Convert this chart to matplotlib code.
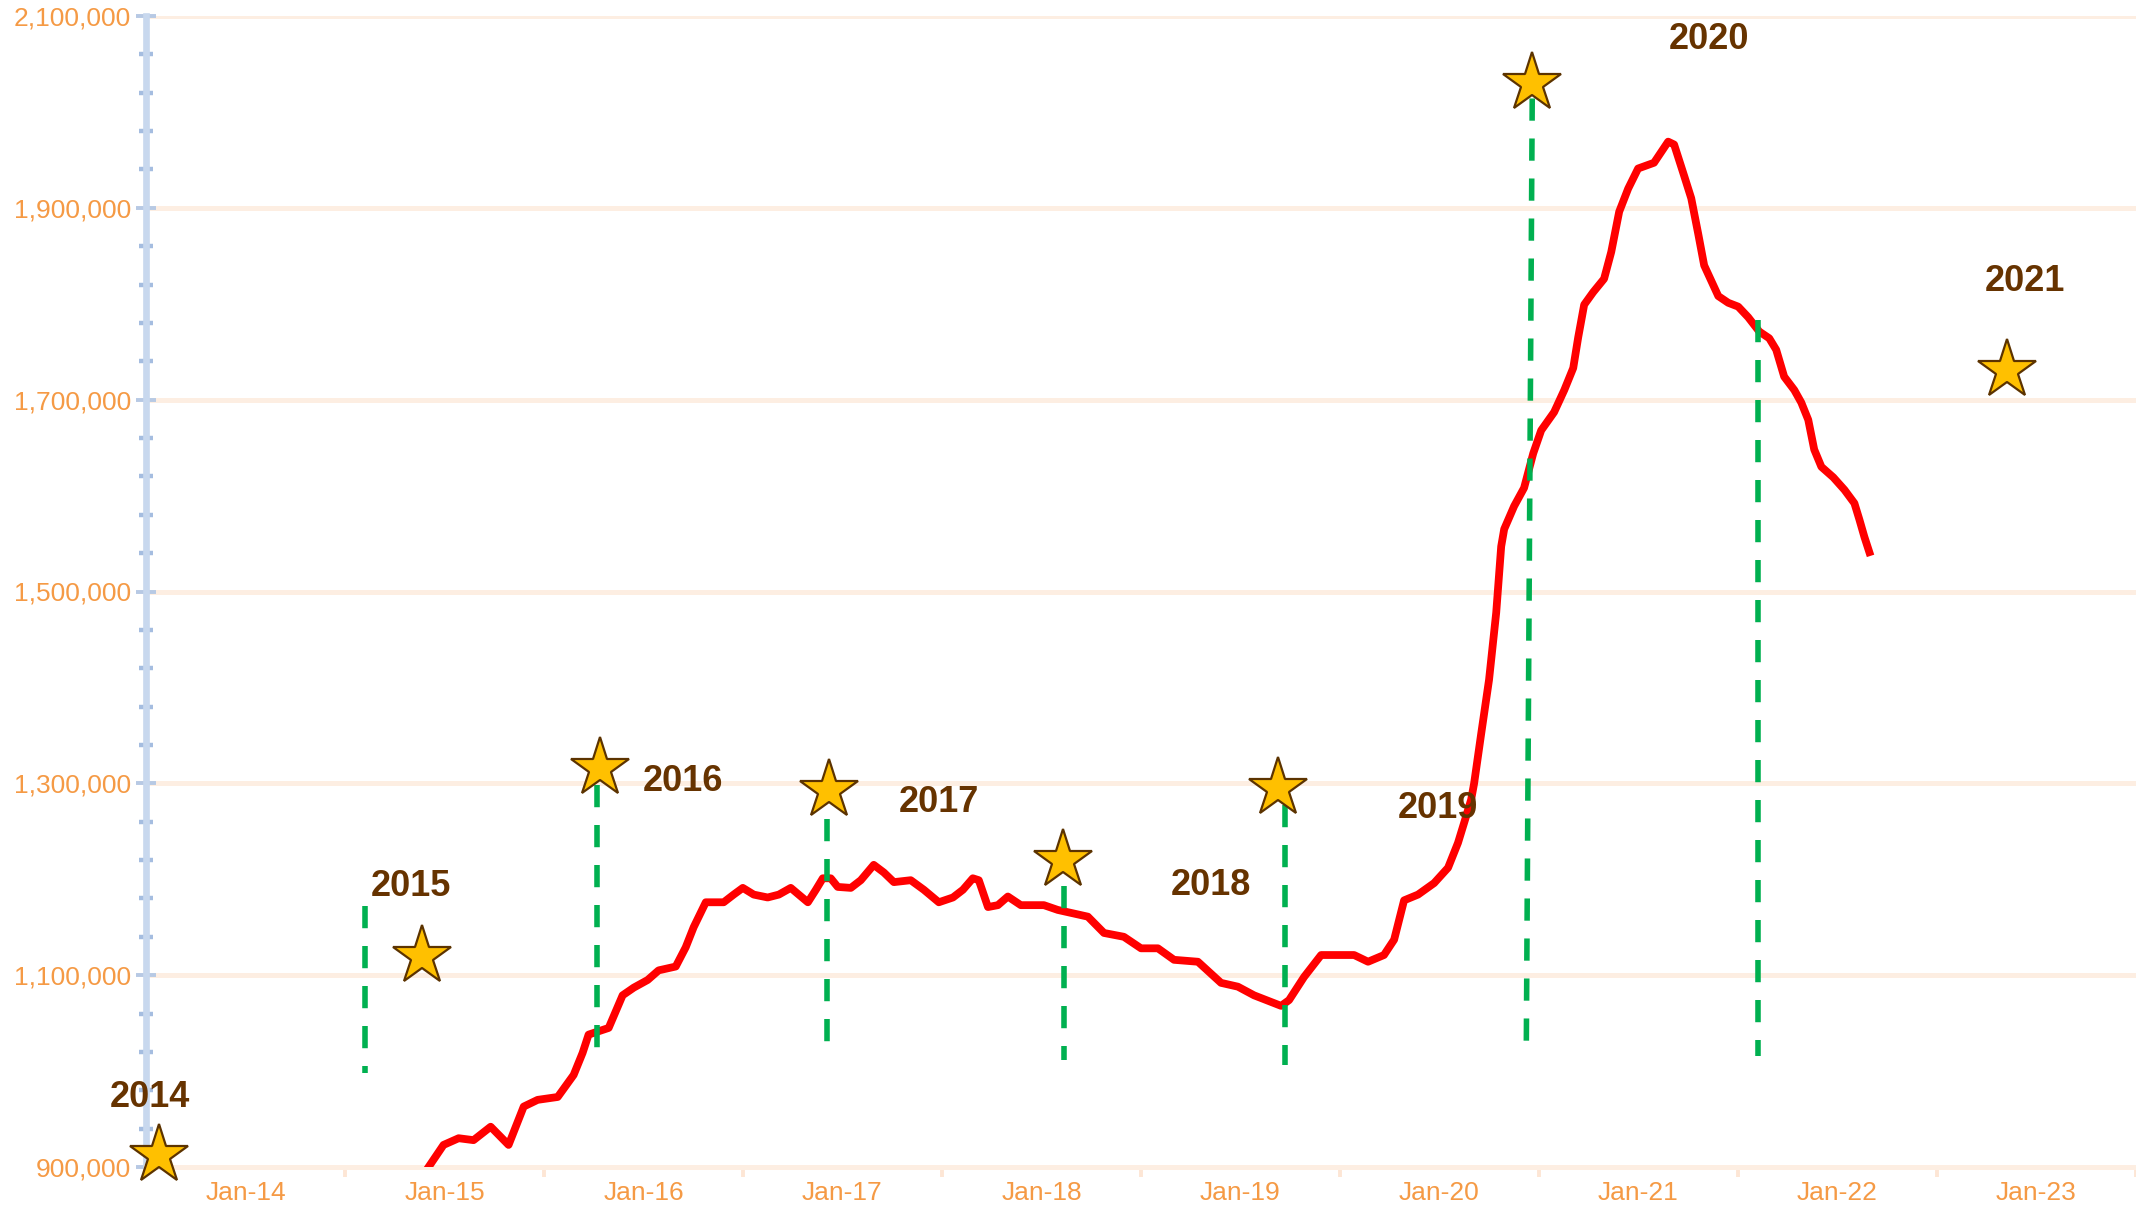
import numpy as np
import matplotlib
matplotlib.use("Agg")
import matplotlib.pyplot as plt
from matplotlib.ticker import FuncFormatter, FixedLocator

# monthly series (decimal year, value in thousands)
years = [2014.920, 2014.995, 2015.071, 2015.146, 2015.232, 2015.322, 2015.398, 2015.468, 2015.569, 2015.649,
         2015.694, 2015.724, 2015.825, 2015.895, 2015.951, 2016.021, 2016.076, 2016.162, 2016.212, 2016.252,
         2016.313, 2016.403, 2016.453, 2016.499, 2016.554, 2016.624, 2016.680, 2016.740, 2016.780, 2016.826,
         2016.866, 2016.901, 2016.941, 2016.976, 2017.042, 2017.092, 2017.157, 2017.208, 2017.258, 2017.343,
         2017.409, 2017.484, 2017.555, 2017.605, 2017.655, 2017.685, 2017.731, 2017.781, 2017.831, 2017.896,
         2018.012, 2018.082, 2018.233, 2018.314, 2018.414, 2018.500, 2018.585, 2018.666, 2018.786, 2018.902,
         2018.987, 2019.068, 2019.204, 2019.244, 2019.319, 2019.405, 2019.571, 2019.641, 2019.721, 2019.772,
         2019.822, 2019.892, 2019.973, 2020.043, 2020.093, 2020.124, 2020.159, 2020.174, 2020.209, 2020.249,
         2020.285, 2020.310, 2020.325, 2020.375, 2020.425, 2020.471, 2020.511, 2020.576, 2020.627, 2020.672,
         2020.697, 2020.727, 2020.772, 2020.827, 2020.863, 2020.903, 2020.948, 2020.998, 2021.078, 2021.149,
         2021.179, 2021.230, 2021.265, 2021.300, 2021.330, 2021.401, 2021.451, 2021.501, 2021.551, 2021.607,
         2021.657, 2021.692, 2021.732, 2021.783, 2021.818, 2021.853, 2021.883, 2021.919, 2021.979, 2022.035,
         2022.085, 2022.110, 2022.135, 2022.160]
values = [900, 923, 930, 928, 942, 923, 963, 970, 973, 996,
          1019, 1038, 1045, 1079, 1087, 1095, 1105, 1109, 1129, 1150,
          1176, 1176, 1184, 1191, 1184, 1181, 1184, 1191, 1184, 1176,
          1189, 1201, 1201, 1192, 1191, 1199, 1215, 1207, 1197, 1199,
          1189, 1176, 1181, 1189, 1201, 1199, 1171, 1173, 1182, 1173,
          1173, 1168, 1161, 1144, 1140, 1128, 1128, 1116, 1114, 1092,
          1088, 1079, 1068, 1074, 1098, 1121, 1121, 1114, 1121, 1137,
          1178, 1184, 1196, 1212, 1238, 1259, 1283, 1300, 1351, 1408,
          1478, 1547, 1565, 1589, 1608, 1644, 1668, 1687, 1710, 1733,
          1765, 1799, 1812, 1826, 1854, 1896, 1920, 1941, 1947, 1969,
          1966, 1933, 1910, 1873, 1840, 1808, 1801, 1797, 1786, 1771,
          1764, 1752, 1724, 1710, 1697, 1679, 1648, 1630, 1619, 1606,
          1592, 1575, 1557, 1541]

# annotations
star_x = [2013.563, 2014.885, 2015.780, 2016.931, 2018.108, 2019.189, 2020.466, 2022.854]
star_y = [912.5, 1120, 1316, 1293, 1220, 1295, 2030, 1731]
label_text = ["2014", "2015", "2016", "2017", "2018", "2019", "2020", "2021"]
label_x = [2013.522, 2014.830, 2016.197, 2017.484, 2018.852, 2019.993, 2021.356, 2022.944]
label_y = [972, 1192, 1302, 1280, 1193, 1274, 2075, 1823]
dash_x_top = [2014.603, 2015.765, 2016.921, 2018.113, 2019.224, 2020.466, 2021.602]
dash_x_bot = [2014.603, 2015.765, 2016.921, 2018.113, 2019.224, 2020.436, 2021.602]
dash_top = [1172, 1298, 1263, 1193, 1277, 2014, 1783]
dash_bot = [998, 1012, 1020, 1012, 1006, 1019, 1016]

tick_years = list(range(2014, 2024))
tick_labels = ["Jan-%02d" % (y % 100) for y in tick_years]
y_major = [900000, 1100000, 1300000, 1500000, 1700000, 1900000, 2100000]
y_minor = [900000 + 40000 * i for i in range(31)]

orange = "#F59A45"
grid_col = "#FDEEE2"
brown = "#663300"

fig = plt.figure(figsize=(10.68, 6.09), dpi=200)
ax = fig.add_axes([146 / 2136, 51 / 1218, 1 - 146 / 2136, 1151 / 1218])

k = 1000
ax.plot(years, np.array(values) * k, color="#FF0000", lw=2.8, zorder=3,
        solid_joinstyle="round")

for xt, xb, yt, yb in zip(dash_x_top, dash_x_bot, dash_top, dash_bot):
    ax.plot([xt, xb], [yt * k, yb * k], color="#00B050", lw=2.0,
            linestyle=(0, (4.0, 3.2)), zorder=4, solid_capstyle="butt")

ax.plot(star_x, np.array(star_y) * k, linestyle="none", marker="*", ms=22,
        mfc="#FFC000", mec="#5C3300", mew=0.8, zorder=6, clip_on=False)

for t, x, y in zip(label_text, label_x, label_y):
    ax.text(x, y * k, t, ha="center", va="center", fontsize=13,
            fontweight="bold", color=brown, family="Liberation Sans", zorder=7)

ax.set_xlim(2013.5, 2023.5)
ax.set_ylim(900000, 2100000)

ax.yaxis.set_major_locator(FixedLocator(y_major))
ax.yaxis.set_minor_locator(FixedLocator(y_minor))
ax.yaxis.set_major_formatter(FuncFormatter(lambda v, p: "{:,.0f}".format(v)))
ax.xaxis.set_major_locator(FixedLocator(tick_years))
ax.set_xticklabels(tick_labels)
ax.xaxis.set_minor_locator(FixedLocator([y + 0.5 for y in tick_years]))

ax.grid(axis="y", which="major", color=grid_col, lw=1.8, zorder=0)
ax.set_axisbelow(True)

for s in ["top", "right"]:
    ax.spines[s].set_visible(False)
ax.spines["bottom"].set_color(grid_col)
ax.spines["bottom"].set_linewidth(1.8)
ax.spines["left"].set_color("#C8D8EE")
ax.spines["left"].set_linewidth(2.4)
ax.spines["left"].set_zorder(2)

ax.tick_params(axis="y", which="major", direction="inout", length=7.5, width=1.4,
               color="#B7C9E4", pad=1.7, labelsize=9.5, labelcolor=orange)
ax.tick_params(axis="y", which="minor", direction="inout", length=4.7, width=1.6,
               color="#A5BDE0")
ax.tick_params(axis="x", which="major", length=0, pad=5, labelsize=9.5,
               labelcolor=orange)
ax.tick_params(axis="x", which="minor", direction="out", length=3.6, width=1.4,
               color="#FDE6D5")
for lab in ax.get_xticklabels() + ax.get_yticklabels():
    lab.set_family("Liberation Sans")

fig.savefig("out.png", dpi=200)
